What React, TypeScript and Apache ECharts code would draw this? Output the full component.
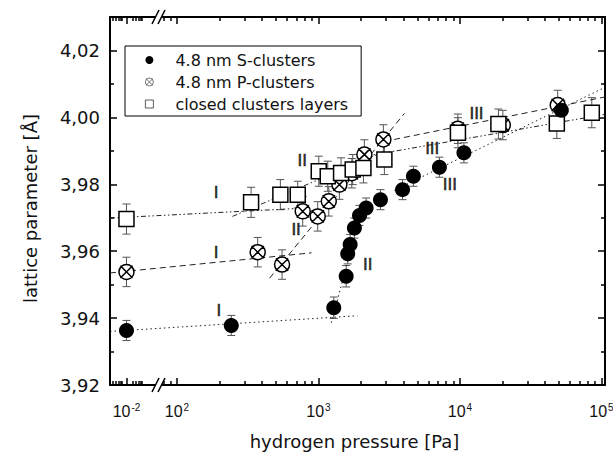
import React, { useEffect, useRef } from "react";
import * as echarts from "echarts";

// ---------------- data ----------------
// hydrogen pressure in Pa (0.01 Pa = the "vacuum" point left of the axis break)
const sPressure = [0.01, 242, 1283, 1570, 1610, 1675, 1795, 1950, 2173, 2743, 3927, 4690, 7161, 10670, 52100];
const sLattice = [3.9363, 3.9378, 3.9431, 3.9525, 3.9592, 3.962, 3.9669, 3.9707, 3.9729, 3.9754, 3.9784, 3.9824, 3.9851, 3.9894, 4.0021];
const sError = [0.003, 0.003, 0.0032, 0.0032, 0.003, 0.003, 0.003, 0.003, 0.003, 0.003, 0.003, 0.003, 0.003, 0.003, 0.003];

const pPressure = [0.01, 372, 553, 774, 988, 1183, 1406, 1720, 2111, 2877, 9660, 20100, 49100];
const pLattice = [3.9538, 3.9597, 3.956, 3.9719, 3.9704, 3.9749, 3.9799, 3.9833, 3.9889, 3.9934, 3.9966, 3.9977, 4.0037];
const pError = [0.0044, 0.0044, 0.0044, 0.0044, 0.0044, 0.0044, 0.0044, 0.0044, 0.0044, 0.0044, 0.0044, 0.0044, 0.0044];

const cPressure = [0.01, 334, 538, 714, 1005, 1163, 1445, 1746, 2079, 2924, 9680, 18700, 48400, 85500];
const cLattice = [3.9696, 3.9746, 3.9769, 3.9769, 3.9839, 3.9824, 3.9834, 3.9844, 3.9849, 3.9874, 3.9954, 3.998, 3.9982, 4.0014];
const cError = [0.0045, 0.0045, 0.0045, 0.004, 0.0045, 0.0045, 0.0045, 0.0045, 0.0045, 0.0045, 0.0045, 0.0045, 0.0045, 0.0045];

// fitted regime lines (start / end pressure, start / end lattice parameter)
const fitNames = ["S-I", "S-II", "S-III", "P-I", "P-II", "P-III", "C-I", "C-II", "C-III"];
const fitP0 = [0.0015, 1233, 3443, 0.0015, 451, 2924, 0.0015, 247, 2173];
const fitP1 = [1884, 1854, 106000, 893, 4055, 106000, 735, 2924, 106000];
const fitV0 = [3.936, 3.9386, 3.9782, 3.9535, 3.9519, 3.9928, 3.9699, 3.9704, 3.9884];
const fitV1 = [3.9407, 3.9666, 4.009, 3.9595, 4.0012, 4.0061, 3.9728, 3.9898, 4.0009];

// regime annotations
const romanText = ["I", "I", "I", "II", "II", "II", "III", "III", "III"];
const romanP = [189, 189, 198, 767, 695, 2228, 13090, 6368, 8492];
const romanV = [3.9774, 3.9596, 3.9424, 3.987, 3.9665, 3.956, 4.0013, 3.9906, 3.9799];

// axes
const xLabelP = [0.01, 100, 1000, 10000, 100000];
const xLabelExp = ["-2", "2", "3", "4", "5"];
const yMajor = [3.92, 3.94, 3.96, 3.98, 4.0, 4.02];
const yMinor = [3.93, 3.95, 3.97, 3.99, 4.01];
const P_MIN = 0.0015;
const P_MAX = 106000;
const Y_MIN = 3.92;
const Y_MAX = 4.03;

const legendNames = ["4.8 nm S-clusters", "4.8 nm P-clusters", "closed clusters layers"];

// ---------------- broken log axis transform ----------------
const U_LOW = 1.643; // where 10^-2 sits on the broken axis
const SEG_DECADE = 0.1413; // compressed decade width left of the break
function toU(p: number): number {
  return p >= 1 ? Math.log10(p) : U_LOW + (Math.log10(p) + 2) * SEG_DECADE;
}

const FONT = "DejaVu Sans";
const P_PATH =
  "path://M0,-10A10,10,0,1,1,0,10A10,10,0,1,1,0,-10ZM-8.2,-8.2L8.2,8.2M8.2,-8.2L-8.2,8.2";
const SQ_PATH = "path://M0,0L10,0L10,10L0,10Z";

function buildOption() {
  const U_MIN = toU(P_MIN);
  const U_MAX = toU(P_MAX);

  const majorU = xLabelP.map(toU);
  const minorU: number[] = [];
  [0.001, 0.01].forEach((d) => {
    for (let k = 2; k <= 6; k++) minorU.push(toU(d * k));
  });
  [8, 9].forEach((k) => minorU.push(toU(10 * k)));
  [100, 1000, 10000].forEach((d) => {
    for (let k = 2; k <= 9; k++) minorU.push(toU(d * k));
  });

  const xBase: any = {
    type: "value",
    min: U_MIN,
    max: U_MAX,
    splitLine: { show: false },
    axisPointer: { show: false },
  };
  const axisLineStyle = { show: true, onZero: false, lineStyle: { color: "#000", width: 2 } };
  const majorTick = (vals: number[]) => ({
    show: true,
    inside: true,
    length: 7,
    customValues: vals,
    lineStyle: { color: "#000", width: 1.5 },
  });
  const minorTick = (vals: number[]) => ({
    show: true,
    inside: true,
    length: 4,
    customValues: vals,
    lineStyle: { color: "#000", width: 1.5 },
  });

  const xAxis = [
    {
      ...xBase,
      position: "bottom",
      axisLine: axisLineStyle,
      axisTick: majorTick(majorU),
      axisLabel: {
        show: true,
        customValues: majorU,
        margin: 17,
        color: "#111",
        fontFamily: "Liberation Sans",
        fontSize: 16,
        formatter: (v: number) => {
          let best = 0;
          majorU.forEach((u, i) => {
            if (Math.abs(u - v) < Math.abs(majorU[best] - v)) best = i;
          });
          return "10{sup|" + xLabelExp[best] + "}";
        },
        rich: {
          sup: { fontSize: 10, fontFamily: "Liberation Sans", color: "#111", padding: [0, 0, 8, 1] },
        },
      },
      name: "hydrogen pressure [Pa]",
      nameLocation: "middle",
      nameGap: 47,
      nameTextStyle: { fontFamily: FONT, fontSize: 18, color: "#111", padding: [0, 6, 0, 0] },
    },
    { ...xBase, position: "bottom", axisLine: { show: false }, axisTick: minorTick(minorU), axisLabel: { show: false } },
    { ...xBase, position: "top", axisLine: axisLineStyle, axisTick: majorTick(majorU), axisLabel: { show: false } },
    { ...xBase, position: "top", axisLine: { show: false }, axisTick: minorTick(minorU), axisLabel: { show: false } },
  ];

  const yBase: any = { type: "value", min: Y_MIN, max: Y_MAX, splitLine: { show: false }, axisPointer: { show: false } };
  const yAxis = [
    {
      ...yBase,
      position: "left",
      axisLine: axisLineStyle,
      axisTick: majorTick(yMajor),
      axisLabel: {
        show: true,
        customValues: yMajor,
        margin: 10,
        color: "#111",
        fontFamily: FONT,
        fontSize: 18,
        formatter: (v: number) => v.toFixed(2).replace(".", ","),
      },
      name: "lattice parameter [Å]",
      nameLocation: "middle",
      nameGap: 71,
      nameTextStyle: { fontFamily: FONT, fontSize: 18, color: "#111", padding: [0, 15, 0, 0] },
    },
    { ...yBase, position: "left", axisLine: { show: false }, axisTick: minorTick(yMinor), axisLabel: { show: false } },
    { ...yBase, position: "right", axisLine: axisLineStyle, axisTick: majorTick(yMajor), axisLabel: { show: false } },
    { ...yBase, position: "right", axisLine: { show: false }, axisTick: minorTick(yMinor), axisLabel: { show: false } },
  ];

  const errSeries = (name: string, ps: number[], vs: number[], es: number[]) => ({
    type: "custom",
    name: name + " error",
    silent: true,
    z: 1,
    encode: { x: 0, y: 1 },
    data: ps.map((p, i) => [toU(p), vs[i], es[i]]),
    renderItem: (_params: any, api: any) => {
      const x = api.value(0) as number;
      const y = api.value(1) as number;
      const e = api.value(2) as number;
      const hi = api.coord([x, y + e]);
      const lo = api.coord([x, y - e]);
      const w = 4;
      const style = { stroke: "#555", lineWidth: 1, fill: null };
      return {
        type: "group",
        children: [
          { type: "line", shape: { x1: hi[0], y1: hi[1], x2: lo[0], y2: lo[1] }, style },
          { type: "line", shape: { x1: hi[0] - w, y1: hi[1], x2: hi[0] + w, y2: hi[1] }, style },
          { type: "line", shape: { x1: lo[0] - w, y1: lo[1], x2: lo[0] + w, y2: lo[1] }, style },
        ],
      };
    },
  });

  const dashFor = (name: string) => {
    if (name.startsWith("S")) return [1.5, 3];
    if (name.startsWith("P")) return [6, 4];
    return [5, 2.5, 1.5, 2.5, 1.5, 2.5];
  };
  const fitSeries = fitNames.map((n, i) => ({
    type: "line",
    name: n,
    silent: true,
    z: 2,
    showSymbol: false,
    symbol: "none",
    data: [
      [toU(fitP0[i]), fitV0[i]],
      [toU(fitP1[i]), fitV1[i]],
    ],
    lineStyle: { color: "#222", width: 1, type: dashFor(n) },
  }));

  const series: any[] = [
    errSeries("S", sPressure, sLattice, sError),
    errSeries("P", pPressure, pLattice, pError),
    errSeries("C", cPressure, cLattice, cError),
    ...fitSeries,
    {
      type: "scatter",
      name: legendNames[0],
      z: 4,
      symbol: "circle",
      symbolSize: 15,
      itemStyle: { color: "#000", opacity: 1 },
      data: sPressure.map((p, i) => [toU(p), sLattice[i]]),
    },
    {
      type: "scatter",
      name: legendNames[1],
      z: 3,
      symbol: P_PATH,
      symbolSize: 15,
      itemStyle: { color: "#fff", borderColor: "#000", borderWidth: 1.5, opacity: 1 },
      data: pPressure.map((p, i) => [toU(p), pLattice[i]]),
    },
    {
      type: "scatter",
      name: legendNames[2],
      z: 3,
      symbol: "rect",
      symbolSize: 15,
      itemStyle: { color: "#fff", borderColor: "#000", borderWidth: 1.5, opacity: 1 },
      data: cPressure.map((p, i) => [toU(p), cLattice[i]]),
    },
    {
      type: "scatter",
      name: "regimes",
      silent: true,
      z: 5,
      symbolSize: 1,
      itemStyle: { color: "rgba(0,0,0,0)" },
      label: {
        show: true,
        position: "inside",
        formatter: (p: any) => p.data.name,
        fontFamily: "Liberation Sans",
        fontSize: 17,
        color: "#000",
        textBorderWidth: 0.6,
        textBorderColor: "#000",
      },
      data: romanText.map((t, i) => ({ name: t, value: [toU(romanP[i]), romanV[i]] })),
    },
  ];

  return {
    animation: false,
    backgroundColor: "#fff",
    grid: { left: 110, right: 8, top: 17, bottom: 73, outerBoundsMode: "none" },
    legend: {
      orient: "vertical",
      left: 125,
      top: 46,
      padding: [5, 13, 3, 20],
      itemWidth: 8,
      itemHeight: 8,
      itemGap: 4,
      borderColor: "#000",
      borderWidth: 1,
      backgroundColor: "#fff",
      selectedMode: false,
      textStyle: { fontFamily: FONT, fontSize: 16, color: "#111", lineHeight: 18, padding: [0, 0, 0, 17] },
      data: [
        { name: legendNames[0] },
        { name: legendNames[1], itemStyle: { borderWidth: 0.8, borderColor: "#555" } },
        { name: legendNames[2], icon: SQ_PATH, itemStyle: { borderWidth: 0.8, borderColor: "#333" } },
      ],
    },
    xAxis,
    yAxis,
    series,
    graphic: [
      // axis-break marks on bottom and top axes
      { type: "rect", shape: { x: 156, y: 382, width: 6, height: 6 }, style: { fill: "#fff" }, z: 100 },
      { type: "line", shape: { x1: 152, y1: 392, x2: 159, y2: 378 }, style: { stroke: "#000", lineWidth: 1.5 }, z: 101 },
      { type: "line", shape: { x1: 158, y1: 392, x2: 165, y2: 378 }, style: { stroke: "#000", lineWidth: 1.5 }, z: 101 },
      { type: "rect", shape: { x: 156, y: 14, width: 6, height: 6 }, style: { fill: "#fff" }, z: 100 },
      { type: "line", shape: { x1: 152, y1: 24, x2: 159, y2: 10 }, style: { stroke: "#000", lineWidth: 1.5 }, z: 101 },
      { type: "line", shape: { x1: 158, y1: 24, x2: 165, y2: 10 }, style: { stroke: "#000", lineWidth: 1.5 }, z: 101 },
    ],
  };
}

export default function App() {
  const ref = useRef<HTMLDivElement>(null);
  useEffect(() => {
    if (!ref.current) return;
    const chart = echarts.init(ref.current, undefined, { renderer: "svg" });
    chart.setOption(buildOption() as any);
    return () => chart.dispose();
  }, []);
  return (
    <div
      ref={ref}
      style={{ position: "fixed", left: 0, top: 0, width: 613, height: 458, background: "#fff" }}
    />
  );
}
